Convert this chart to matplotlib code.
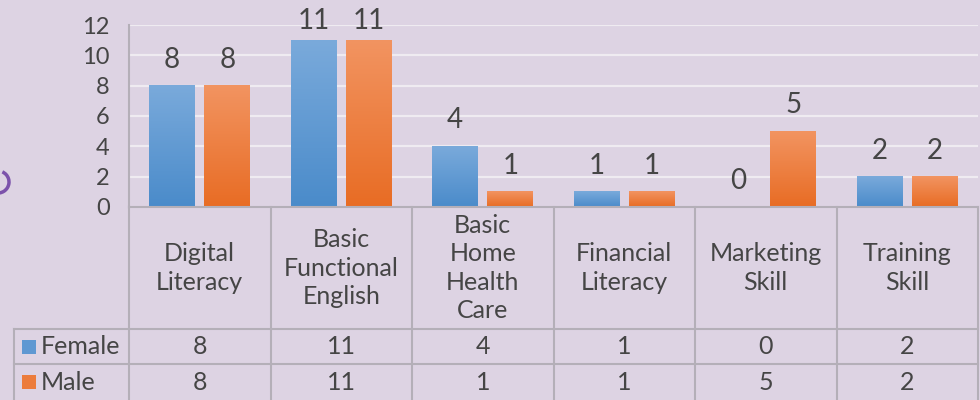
import numpy as np
import matplotlib
matplotlib.use("Agg")
import matplotlib.pyplot as plt
from matplotlib.colors import LinearSegmentedColormap
from matplotlib.patches import Rectangle, Arc

categories = ["Digital\nLiteracy", "Basic\nFunctional\nEnglish", "Basic\nHome\nHealth\nCare",
	"Financial\nLiteracy", "Marketing\nSkill", "Training\nSkill"]
series = ["Female", "Male"]
female = [8, 11, 4, 1, 0, 2]
male = [8, 11, 1, 1, 5, 2]
yticks = [0, 2, 4, 6, 8, 10, 12]

plt.rcParams['font.family'] = ['Lato', 'DejaVu Sans']
txt = '#454545'
line = '#b4afb8'
bg = '#ddd3e3'

# bottom -> top gradient for each series
blue = LinearSegmentedColormap.from_list("b", ["#4a8bca", "#7aaadb"])
orange = LinearSegmentedColormap.from_list("o", ["#e86c24", "#f29461"])
grad = np.linspace(0, 1, 256).reshape(-1, 1)

W, H = 980, 400
fig = plt.figure(figsize=(W / 100, H / 100), dpi=100)
fig.patch.set_facecolor(bg)

# plot area, in pixel terms: x 129..978, y 25..207
ax = fig.add_axes([129 / W, 1 - 207 / H, (978 - 129) / W, (207 - 25) / H])
ax.set_facecolor('none')
ax.set_xlim(-0.5, 5.5)
ax.set_ylim(0, 12)
ax.set_yticks(yticks)
ax.set_yticklabels([str(t) for t in yticks], fontsize=17, color=txt)
ax.tick_params(axis='y', length=0, pad=14)
ax.set_xticks([])
for t in yticks[1:]:
	ax.axhline(t, color='#efebf1', lw=1.6, zorder=0)
for s in ['top', 'right']:
	ax.spines[s].set_visible(False)
for s in ['left', 'bottom']:
	ax.spines[s].set_color(line)
	ax.spines[s].set_linewidth(1.5)

bw = 0.325
off = 0.195
ppu = 182 / 12  # pixels per unit on the value axis
for i in range(len(categories)):
	for vals, cm, dx in [(female, blue, -off), (male, orange, off)]:
		v = vals[i]
		x0 = i + dx - bw / 2
		if v > 0:
			ax.imshow(grad, cmap=cm, origin='lower', aspect='auto',
				extent=(x0, x0 + bw, 0, v), zorder=2)
		# labels are pushed down when they would run off the top
		top = 207 - v * ppu
		gap = min(13, top - 34)
		ax.annotate(str(v), (i + dx, v), xytext=(0, gap / 1.389), textcoords='offset points',
			ha='center', va='bottom', fontsize=20, color=txt)
ax.set_xlim(-0.5, 5.5)
ax.set_ylim(0, 12)

# data table under the chart
tax = fig.add_axes([129 / W, 0, (978 - 129) / W, (H - 207) / H])
tax.set_xlim(-0.5, 5.5)
tax.set_ylim(H - 207, 0)
tax.axis('off')

def px2x(px):
	return -0.5 + (px - 129) / 141.5

left = px2x(14)
r1, r2, r3 = 122, 157, 193
kw = dict(color=line, lw=1.5, clip_on=False)
for b in np.arange(-0.5, 6, 1):
	tax.plot([b, b], [0, r3], **kw)
tax.plot([left, left], [r1, r3], **kw)
tax.plot([left, 5.5], [r1, r1], **kw)
tax.plot([left, 5.5], [r2, r2], **kw)

for i, c in enumerate(categories):
	tax.text(i, 61, c, ha='center', va='center', fontsize=18, color=txt, linespacing=1.28)
	tax.text(i, (r1 + r2) / 2, str(female[i]), ha='center', va='center', fontsize=18, color=txt)
	tax.text(i, (r2 + r3) / 2, str(male[i]), ha='center', va='center', fontsize=18, color=txt)

for name, col, ya, yb in [(series[0], "#5f98d2", r1, r2), (series[1], "#ec7c3c", r2, r3)]:
	ym = (ya + yb) / 2
	tax.add_patch(Rectangle((px2x(22), ym - 7), px2x(36) - px2x(22), 14,
		facecolor=col, edgecolor='none', clip_on=False))
	tax.text(px2x(41), ym, name, ha='left', va='center', fontsize=18, color=txt, clip_on=False)

# small purple curl at the left edge
fig.add_artist(Arc((-2 / W, 1 - 182 / H), 22 / W, 22 / H, theta1=-110, theta2=80,
	color='#7c52ab', lw=2.5, transform=fig.transFigure))

fig.savefig("out.png", dpi=100, facecolor=bg)
